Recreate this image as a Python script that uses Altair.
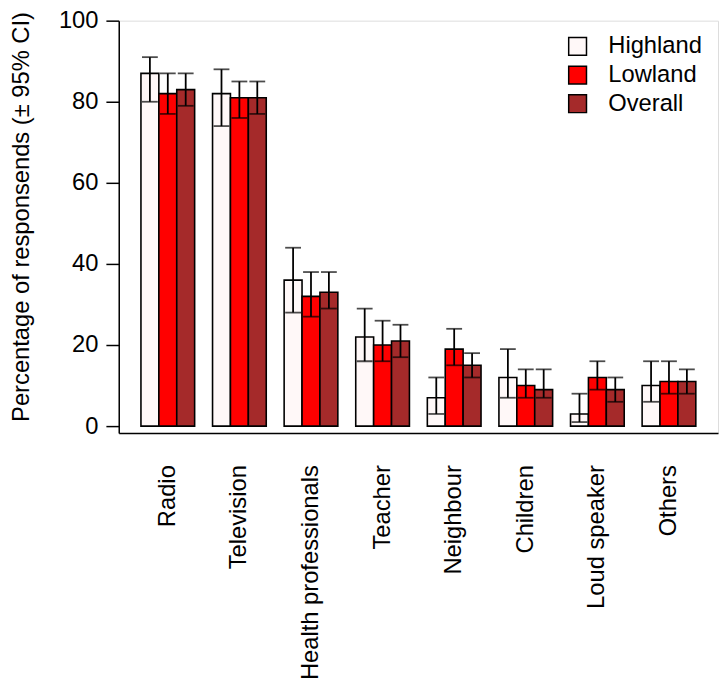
import altair as alt
import pandas as pd

categories = ["Radio", "Television", "Health professionals", "Teacher",
              "Neighbour", "Children", "Loud speaker", "Others"]
groups = ["Highland", "Lowland", "Overall"]
colors = ["#FFF8F8", "#FF0000", "#A52A2A"]

highland = [87, 82, 36, 22, 7, 12, 3, 10]
highland_lo = [80, 74, 28, 16, 3, 7, 1, 6]
highland_hi = [91, 88, 44, 29, 12, 19, 8, 16]

lowland = [82, 81, 32, 20, 19, 10, 12, 11]
lowland_lo = [77, 76, 27, 16, 15, 7, 9, 8]
lowland_hi = [87, 85, 38, 26, 24, 14, 16, 16]

overall = [83, 81, 33, 21, 15, 9, 9, 11]
overall_lo = [79, 77, 29, 17, 12, 7, 6, 8]
overall_hi = [87, 85, 38, 25, 18, 14, 12, 14]

y_ticks = [0, 20, 40, 60, 80, 100]

rows = []
for g, vals, los, his in [("Highland", highland, highland_lo, highland_hi),
                          ("Lowland", lowland, lowland_lo, lowland_hi),
                          ("Overall", overall, overall_lo, overall_hi)]:
    for c, v, lo, hi in zip(categories, vals, los, his):
        rows.append({"category": c, "group": g, "value": v, "lo": lo, "hi": hi})
df = pd.DataFrame(rows)

FONT = "Liberation Sans"
FS = 24

yscale = alt.Scale(domain=[-1.7, 100], nice=False, zero=False)

base = alt.Chart(df).encode(
    x=alt.X("category:N", sort=categories,
            scale=alt.Scale(paddingInner=0.25, paddingOuter=0.31),
            axis=alt.Axis(title=None, labelAngle=-90, labelFontSize=FS,
                          labelFont=FONT, labelColor="black", labelPadding=32,
                          ticks=False, tickSize=0, domain=True,
                          domainColor="black", domainWidth=1.5, labelLimit=0)),
    xOffset=alt.XOffset("group:N", sort=groups,
                        scale=alt.Scale(paddingInner=0, paddingOuter=0)),
)

bars = base.mark_bar(stroke="black", strokeWidth=1.6).encode(
    y=alt.Y("value:Q", scale=yscale,
            axis=alt.Axis(title="Percentage of responsends (\u00b1 95% CI)",
                          values=y_ticks, grid=False, labelFontSize=FS,
                          labelFont=FONT, labelColor="black", labelPadding=8,
                          tickSize=13, tickColor="black", tickWidth=1.5,
                          domainColor="black", domainWidth=1.5,
                          titleFont=FONT, titleFontSize=FS,
                          titleFontWeight="normal", titleColor="black",
                          titleBaseline="alphabetic",
                          titleX=-91, titleY=198)),
    fill=alt.Fill("group:N", sort=groups,
                  scale=alt.Scale(domain=groups, range=colors),
                  legend=alt.Legend(title=None, orient="none", legendX=452,
                                    legendY=14, symbolType="square",
                                    symbolSize=324, symbolStrokeColor="black",
                                    symbolStrokeWidth=1.5, symbolOpacity=1,
                                    labelFontSize=FS, labelFont=FONT,
                                    labelColor="black", labelOffset=19,
                                    rowPadding=5, padding=0)),
)

rules = base.mark_rule(color="black", strokeWidth=1.8).encode(
    y=alt.Y("lo:Q", scale=yscale), y2="hi:Q")
caps_hi = base.mark_tick(color="black", thickness=1.8, size=16).encode(
    y=alt.Y("hi:Q", scale=yscale))
caps_lo = base.mark_tick(color="black", thickness=1.8, size=16).encode(
    y=alt.Y("lo:Q", scale=yscale))

chart = alt.layer(bars, rules, caps_hi, caps_lo).properties(
    width=606, height=417,
    autosize=alt.AutoSizeParams(type="none"),
    padding={"left": 112, "top": 9, "right": 1, "bottom": 250},
).configure_view(stroke=None).configure(background="white")

chart.save("out.html", embed_options={"renderer": "svg", "actions": False})
